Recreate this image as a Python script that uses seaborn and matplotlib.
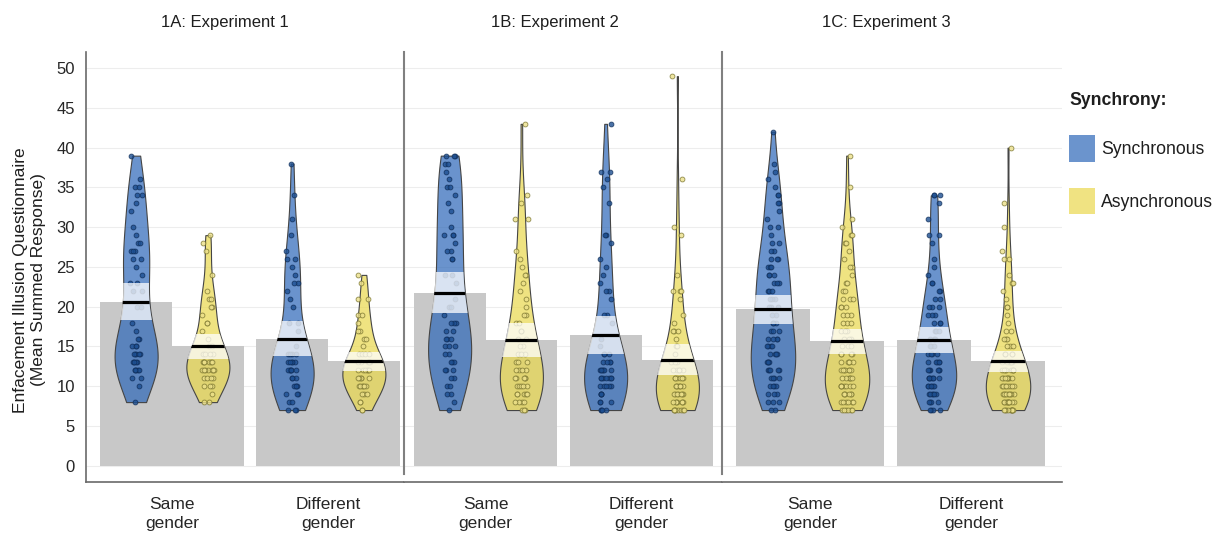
import numpy as np
import pandas as pd
import matplotlib
matplotlib.use("Agg")
import matplotlib.pyplot as plt
from matplotlib.patches import Patch, Rectangle
import seaborn as sns

EXPERIMENTS = ["1A: Experiment 1", "1B: Experiment 2", "1C: Experiment 3"]
GENDER = ["Same gender", "Different gender"]
GENDER_LABELS = ["Same\ngender", "Different\ngender"]
SYNCHRONY = ["Synchronous", "Asynchronous"]

# summed score -> number of participants
E1_SAME_SYNC = {39: 1, 36: 1, 35: 2, 34: 2, 33: 1, 32: 1, 30: 1, 29: 1, 28: 2, 27: 3, 26: 2, 25: 1, 24: 1,
                23: 2, 22: 2, 20: 2, 18: 1, 17: 1, 16: 2, 15: 3, 14: 5, 13: 5, 12: 5, 11: 2, 10: 1, 8: 1}
E1_SAME_ASYNC = {29: 1, 28: 1, 27: 1, 24: 1, 22: 1, 21: 2, 20: 2, 19: 1, 18: 2, 17: 1, 16: 1, 15: 2, 14: 4,
                 13: 6, 12: 7, 11: 4, 10: 3, 9: 1, 8: 2}
E1_DIFF_SYNC = {38: 1, 34: 1, 31: 1, 29: 1, 27: 1, 26: 2, 25: 1, 24: 1, 23: 2, 22: 1, 21: 1, 20: 1, 18: 2,
                17: 1, 15: 1, 14: 4, 13: 5, 12: 6, 11: 3, 10: 4, 9: 3, 8: 2, 7: 3}
E1_DIFF_ASYNC = {24: 1, 23: 1, 21: 2, 19: 2, 18: 1, 17: 2, 16: 2, 15: 1, 14: 4, 13: 5, 12: 6, 11: 5, 10: 6,
                 9: 3, 8: 2, 7: 2}

E2_SAME_SYNC = {39: 3, 38: 2, 37: 1, 36: 1, 35: 2, 34: 1, 33: 1, 32: 1, 30: 1, 29: 3, 28: 1, 27: 2, 26: 2,
                24: 2, 23: 1, 21: 1, 20: 2, 19: 1, 18: 3, 17: 2, 16: 3, 15: 3, 14: 2, 13: 3, 12: 3, 11: 2,
                10: 2, 9: 2, 8: 1, 7: 1}
E2_SAME_ASYNC = {43: 1, 34: 1, 33: 1, 31: 2, 27: 1, 26: 1, 25: 1, 24: 2, 23: 1, 22: 1, 21: 1, 20: 1, 19: 2,
                 18: 2, 17: 2, 16: 2, 15: 2, 14: 3, 13: 3, 12: 4, 11: 5, 10: 5, 9: 5, 8: 4, 7: 3}
E2_DIFF_SYNC = {43: 1, 37: 2, 36: 1, 35: 1, 33: 1, 29: 2, 28: 1, 26: 1, 25: 1, 24: 1, 23: 1, 22: 2, 21: 1,
                19: 2, 18: 1, 16: 1, 15: 1, 14: 3, 13: 4, 12: 6, 11: 7, 10: 5, 9: 4, 8: 3, 7: 4}
E2_DIFF_ASYNC = {49: 1, 36: 1, 30: 1, 29: 1, 24: 1, 22: 3, 21: 1, 19: 1, 18: 1, 17: 3, 16: 1, 15: 2, 14: 1,
                 13: 3, 12: 5, 11: 6, 10: 7, 9: 7, 8: 7, 7: 8}

E3_SAME_SYNC = {42: 1, 38: 1, 37: 1, 36: 1, 35: 1, 34: 2, 33: 2, 32: 1, 31: 1, 30: 2, 29: 1, 28: 2, 27: 2,
                26: 3, 25: 3, 24: 3, 23: 3, 22: 3, 21: 3, 20: 3, 19: 2, 18: 3, 17: 3, 16: 4, 15: 4, 14: 4,
                13: 4, 12: 5, 11: 4, 10: 4, 9: 3, 8: 3, 7: 2}
E3_SAME_ASYNC = {39: 1, 35: 1, 31: 1, 30: 1, 29: 2, 28: 2, 27: 1, 26: 1, 25: 2, 24: 1, 23: 2, 22: 2, 21: 3,
                 20: 3, 19: 3, 18: 3, 17: 3, 16: 3, 15: 3, 14: 4, 13: 5, 12: 7, 11: 6, 10: 7, 9: 6, 8: 6, 7: 6}
E3_DIFF_SYNC = {34: 3, 33: 1, 31: 1, 29: 2, 28: 1, 26: 1, 25: 1, 24: 1, 23: 2, 22: 2, 21: 2, 20: 3, 19: 3,
                18: 3, 17: 3, 16: 3, 15: 3, 14: 4, 13: 5, 12: 6, 11: 7, 10: 6, 9: 6, 8: 4, 7: 4}
E3_DIFF_ASYNC = {40: 1, 33: 1, 30: 1, 27: 1, 26: 2, 24: 1, 23: 2, 22: 1, 21: 1, 20: 2, 19: 1, 18: 1, 17: 2,
                 16: 3, 15: 3, 14: 4, 13: 6, 12: 8, 11: 8, 10: 8, 9: 9, 8: 10, 7: 10}

COUNTS = {
    (EXPERIMENTS[0], GENDER[0], SYNCHRONY[0]): E1_SAME_SYNC,
    (EXPERIMENTS[0], GENDER[0], SYNCHRONY[1]): E1_SAME_ASYNC,
    (EXPERIMENTS[0], GENDER[1], SYNCHRONY[0]): E1_DIFF_SYNC,
    (EXPERIMENTS[0], GENDER[1], SYNCHRONY[1]): E1_DIFF_ASYNC,
    (EXPERIMENTS[1], GENDER[0], SYNCHRONY[0]): E2_SAME_SYNC,
    (EXPERIMENTS[1], GENDER[0], SYNCHRONY[1]): E2_SAME_ASYNC,
    (EXPERIMENTS[1], GENDER[1], SYNCHRONY[0]): E2_DIFF_SYNC,
    (EXPERIMENTS[1], GENDER[1], SYNCHRONY[1]): E2_DIFF_ASYNC,
    (EXPERIMENTS[2], GENDER[0], SYNCHRONY[0]): E3_SAME_SYNC,
    (EXPERIMENTS[2], GENDER[0], SYNCHRONY[1]): E3_SAME_ASYNC,
    (EXPERIMENTS[2], GENDER[1], SYNCHRONY[0]): E3_DIFF_SYNC,
    (EXPERIMENTS[2], GENDER[1], SYNCHRONY[1]): E3_DIFF_ASYNC,
}

# colours
BAR_GREY = "#c8c8c8"
VIOLIN = {"Synchronous": "#2b66b8", "Asynchronous": "#e9d84c"}
LEGEND = {"Synchronous": "#6b94cd", "Asynchronous": "#f0e382"}
DOT_FACE = {"Synchronous": "#1d4f91", "Asynchronous": "#ece08a"}
DOT_EDGE = {"Synchronous": "#0e2c57", "Asynchronous": "#77722c"}

# layout, in pixels of the 1231x537 canvas
W, H = 1231, 537
OFFSET = 0.23      # sync / async shift from the group centre
PANEL_PX = [(86, 404, 172, 156), (404, 722, 485.5, 156), (722, 1062, 810, 161)]  # left, right, x=0, px/unit
Y0_PX, PX_PER_UNIT = 465.7, 7.95
AX_TOP, AX_BOTTOM = 52, 482

rows = []
for (exp, gender, sync), table in COUNTS.items():
    g = GENDER.index(gender)
    pos = g - OFFSET if sync == SYNCHRONY[0] else g + OFFSET
    for score, n in table.items():
        rows += [{"experiment": exp, "gender": gender, "sync": sync, "pos": pos, "score": score}] * n
df = pd.DataFrame(rows)

sns.set_style("white")
plt.rcParams["font.family"] = ["Liberation Sans", "DejaVu Sans"]
plt.rcParams["text.color"] = "#1e1e1e"
np.random.seed(7)

fig = plt.figure(figsize=(W / 100, H / 100), dpi=100)
ylo = (Y0_PX - AX_BOTTOM) / PX_PER_UNIT
yhi = (Y0_PX - AX_TOP) / PX_PER_UNIT

for i, exp in enumerate(EXPERIMENTS):
    left, right, x0, unit = PANEL_PX[i]
    ax = fig.add_axes([left / W, (H - AX_BOTTOM) / H, (right - left) / W, (AX_BOTTOM - AX_TOP) / H])
    d = df[df["experiment"] == exp]

    sns.barplot(data=d, x="pos", y="score", orient="x", native_scale=True, width=1.0,
                errorbar=None, color=BAR_GREY, saturation=1, linewidth=0, ax=ax, zorder=1)

    n0 = len(ax.collections)
    sns.violinplot(data=d, x="pos", y="score", hue="sync", hue_order=SYNCHRONY, palette=VIOLIN,
                   orient="x", native_scale=True, dodge=False, width=0.6, cut=0, inner=None,
                   density_norm="width", bw_adjust=1.0, linewidth=0.8, linecolor="#454545",
                   saturation=1, legend=False, ax=ax)
    violins = list(ax.collections[n0:])
    for v in violins:
        fc = v.get_facecolor()[0]
        v.set_facecolor((fc[0], fc[1], fc[2], 0.7))
        v.set_zorder(2)

    for sync in SYNCHRONY:
        sub = d[d["sync"] == sync]
        sns.stripplot(data=sub, x="pos", y="score", orient="x", native_scale=True, jitter=0.04,
                      size=3.5, color=DOT_FACE[sync], edgecolor=DOT_EDGE[sync], linewidth=0.6,
                      alpha=0.8, ax=ax, zorder=2.5)

    # mean line and 95% interval band, clipped to each bean
    stats = d.groupby("pos")["score"].agg(["mean", "std", "count"])
    for v in violins:
        path = v.get_paths()[0]
        xs = path.vertices[:, 0]
        pos = stats.index[np.argmin(np.abs(stats.index - (xs.min() + xs.max()) / 2))]
        m, s, n = stats.loc[pos]
        half = 1.96 * s / np.sqrt(n)
        band = Rectangle((pos - 0.2, m - half), 0.4, 2 * half, facecolor="white", alpha=0.75,
                         edgecolor="none", zorder=3)
        ax.add_patch(band)
        band.set_clip_path(path, ax.transData)
        line, = ax.plot([pos - 0.2, pos + 0.2], [m, m], color="black", lw=2.3, zorder=3.5,
                        solid_capstyle="butt")
        line.set_clip_path(path, ax.transData)

    ax.set_xlim((left - x0) / unit, (right - x0) / unit)
    ax.set_ylim(ylo, yhi)
    ax.set_xticks([0, 1], GENDER_LABELS, linespacing=1.3)
    ax.set_yticks(range(0, 51, 5))
    ax.set_xlabel("")
    ax.set_ylabel("")
    ax.grid(axis="y", color="#ededed", lw=0.8)
    ax.set_axisbelow(True)
    ax.tick_params(axis="x", length=7, width=1, color="#777777", labelsize=12.5, pad=4)
    for side in ["top", "right"]:
        ax.spines[side].set_visible(False)
    ax.spines["bottom"].set_color("#6a6a6a")
    ax.spines["bottom"].set_linewidth(1.2)
    if i == 0:
        ax.tick_params(axis="y", length=5, width=1, color="#9a9a9a", labelsize=12, pad=3)
        ax.spines["left"].set_color("#6a6a6a")
        ax.spines["left"].set_linewidth(1.2)
    else:
        ax.tick_params(axis="y", left=False, labelleft=False)
        ax.spines["left"].set_color("#808080")
        ax.spines["left"].set_linewidth(1.5)
        ax.spines["left"].set_bounds((Y0_PX - 474) / PX_PER_UNIT, yhi)

TITLE_X = [225, 555, 886]
for exp, tx in zip(EXPERIMENTS, TITLE_X):
    fig.text(tx / W, 1 - 22 / H, exp, ha="center", va="center", fontsize=12)

fig.text(30 / W, 1 - 280 / H, "Enfacement Illusion Questionnaire\n(Mean Summed Response)",
         rotation=90, ha="center", va="center", fontsize=12.5, linespacing=1.25,
         multialignment="center")

handles = [Patch(facecolor=LEGEND[s], edgecolor="none", label=s) for s in SYNCHRONY]
fig.legend(handles=handles, title="Synchrony:", loc="upper left",
           bbox_to_anchor=(1069 / W, 1 - 92 / H), frameon=False, fontsize=12.7,
           title_fontproperties={"weight": "bold", "size": 12.7}, alignment="left",
           handlelength=1.5, handleheight=1.9, handletextpad=0.3, labelspacing=1.5,
           borderpad=0, borderaxespad=0)

fig.savefig("out.png", dpi=100)
